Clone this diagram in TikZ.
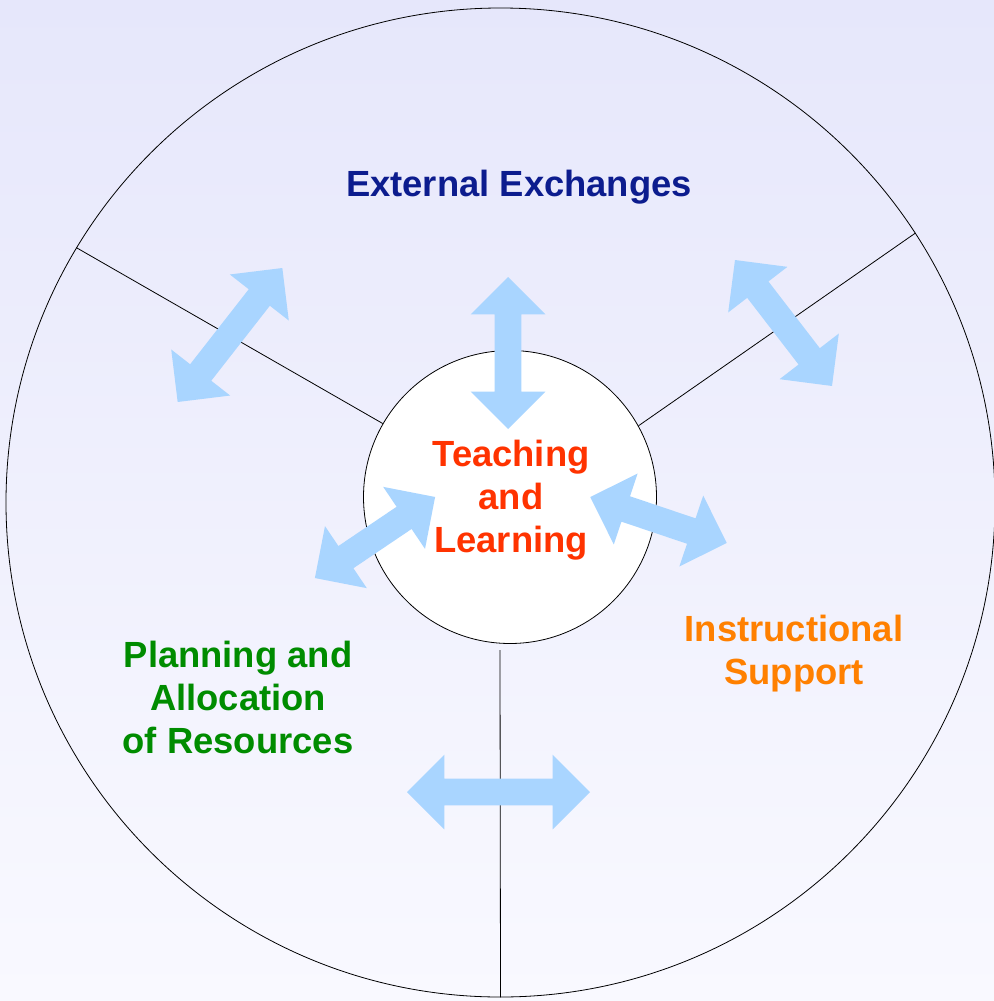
\documentclass[tikz,border=0pt]{standalone}
\usepackage{fontspec}
\setmainfont{Liberation Sans}
\usetikzlibrary{shapes.arrows}
\definecolor{bgtop}{RGB}{230,231,251}
\definecolor{bgbottom}{RGB}{249,249,255}
\definecolor{linkblue}{RGB}{169,213,255}
\definecolor{extnavy}{RGB}{12,28,142}
\definecolor{teachred}{RGB}{255,51,0}
\definecolor{plangreen}{RGB}{0,140,0}
\definecolor{supportorange}{RGB}{255,128,0}
\tikzset{
  link/.style={double arrow, fill=linkblue, inner sep=6.5pt, minimum width=37pt,
    double arrow head extend=12pt, double arrow tip angle=90},
  sector/.style={font=\fontsize{18.2}{21.5}\selectfont\bfseries, align=center},
}
\begin{document}
\begin{tikzpicture}[x=0.5pt, y=-0.5pt]
\shade[top color=bgtop, bottom color=bgbottom] (0,0) rectangle (994,1001);
\useasboundingbox (0,0) rectangle (994,1001);
\node[shape=circle, draw=black, thin, inner sep=0pt, minimum size=494.5pt] (rim) at (500.5,502.5) {};
\node[shape=circle, draw=black, thin, fill=white, inner sep=0pt, minimum size=146.5pt] (core) at (510,497) {};
\coordinate (gap) at (500,650);
\path [-, thin, draw=black] (rim.149.5) edge (core.150.4);
\path [-, thin, draw=black] (rim.33) edge (core.29.5);
\path [-, thin, draw=black] (gap) edge (rim.south);
% arrows between the sectors and the core
\node[link, rotate=52, minimum height=85pt] (a1) at (230,335) {};
\node[link, rotate=90, minimum height=76pt] (a2) at (508,353) {};
\node[link, rotate=-52.4, minimum height=79.5pt] (a3) at (783.5,323) {};
\node[link, rotate=34, minimum height=72.5pt] (a4) at (375,537.5) {};
\node[link, rotate=-18.6, minimum height=72pt] (a5) at (658.5,520) {};
\node[link, minimum height=91.5pt] (a6) at (498.5,792) {};
% labels
\node[sector, text=extnavy] (ext) at (519,187) {External Exchanges};
\node[sector, text=teachred] (teach) at (511,500) {Teaching\\and\\Learning};
\node[sector, text=plangreen] (plan) at (238,697.5) {Planning and\\Allocation\\of Resources};
\node[sector, text=supportorange] (supp) at (794,654) {Instructional\\Support};
\end{tikzpicture}
\end{document}
